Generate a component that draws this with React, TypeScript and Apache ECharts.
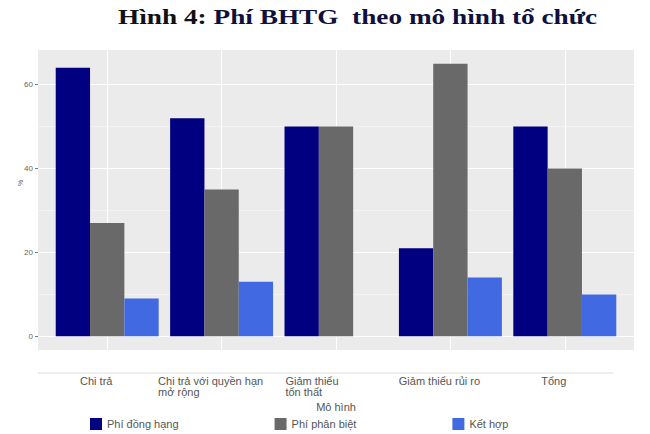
import React, { useEffect, useRef } from "react";
import * as echarts from "echarts";

const categories = [
  "Chi trả",
  "Chi trả với quyền hạn\nmở rộng",
  "Giảm thiểu\ntổn thất",
  "Giảm thiểu rủi ro",
  "Tổng",
];
const seriesNames = ["Phí đồng hạng", "Phí phân biệt", "Kết hợp"];
const phiDongHang = [64, 52, 50, 21, 50];
const phiPhanBiet = [27, 35, 50, 65, 40];
const ketHop = [9, 13, null, 14, 10];
const yTickMax = 60;
const yTickStep = 20;
const yRange = [-3.25, 68.25];

const titleMain = "Hình 4:";
const titleRest = "Phí BHTG  theo mô hình tổ chức";
const xAxisTitle = "Mô hình";
const yAxisTitle = "%";

const colors = ["#000080", "#696969", "#4169e1"];

export default function App() {
  const ref = useRef<HTMLDivElement>(null);
  useEffect(() => {
    document.body.style.margin = "0";
    if (!ref.current) return;
    const chart = echarts.init(ref.current, null, { renderer: "svg" });
    const panel = { left: 38, top: 50, width: 596, height: 300 };
    const unit = panel.height / (yRange[1] - yRange[0]);
    const zeroY = panel.top + yRange[1] * unit;
    const tickTop = zeroY - yTickMax * unit;
    const textColor = "#555";
    const font = "Liberation Sans";
    const labelStyle = {
      align: "left",
      fontSize: 11,
      lineHeight: 11,
      color: textColor,
      fontFamily: font,
    };

    const option: any = {
      animation: false,
      color: colors,
      grid: [
        { ...panel, show: true, backgroundColor: "#ebebeb", borderWidth: 0, z: -1 },
        { left: panel.left, width: panel.width, top: tickTop, height: zeroY - tickTop },
        { left: 50, width: 572, top: panel.top, height: panel.height },
      ],
      xAxis: [
        { gridIndex: 0, type: "value", show: false },
        { gridIndex: 1, type: "value", show: false },
        {
          gridIndex: 2,
          type: "category",
          data: categories,
          axisLine: { show: false },
          axisTick: { show: false },
          splitLine: {
            show: true,
            alignWithLabel: true,
            lineStyle: { color: "#ffffff", width: 1 },
          },
          axisLabel: {
            interval: 0,
            margin: 25,
            align: "center",
            padding: [0, 22, 0, 0],
            formatter: (v: string, idx: number) =>
              v
                .split("\n")
                .map((s) => "{" + (idx === 2 ? "m" : "l") + "|" + s + "}")
                .join("\n"),
            rich: {
              l: labelStyle,
              m: { ...labelStyle, padding: [0, 26, 0, 0] },
            },
          },
          name: xAxisTitle,
          nameLocation: "middle",
          nameGap: 51,
          nameTextStyle: { fontSize: 11, color: textColor, fontFamily: font },
        },
      ],
      yAxis: [
        { gridIndex: 0, type: "value", show: false, min: 0, max: 1 },
        {
          gridIndex: 1,
          type: "value",
          min: 0,
          max: yTickMax,
          interval: yTickStep,
          axisLine: { show: false },
          axisTick: { show: true, length: 3, lineStyle: { color: "#777" } },
          axisLabel: { fontSize: 8, color: "#666", margin: 5, fontFamily: font },
          splitLine: { show: true, lineStyle: { color: "#ffffff", width: 1.2 } },
          minorTick: { show: false, splitNumber: 2 },
          minorSplitLine: { show: true, lineStyle: { color: "#ffffff", width: 0.6, opacity: 0.7 } },
        },
        { gridIndex: 2, type: "value", show: false, min: yRange[0], max: yRange[1] },
      ],
      legend: {
        left: 90,
        top: 418,
        padding: 0,
        itemWidth: 12,
        itemHeight: 12,
        itemGap: 96,
        icon: "rect",
        textStyle: { fontSize: 11, color: textColor, fontFamily: font },
        data: seriesNames,
      },
      series: [phiDongHang, phiPhanBiet, ketHop].map((d, i) => ({
        type: "bar",
        name: seriesNames[i],
        xAxisIndex: 2,
        yAxisIndex: 2,
        data: d,
        barGap: "0%",
        barCategoryGap: "10%",
        itemStyle: { color: colors[i] },
      })),
      graphic: [
        {
          type: "text",
          x: 118,
          y: 5,
          scaleX: 1.24,
          style: {
            text: "{a|" + titleMain + "} {b|" + titleRest + "}",
            fontSize: 22,
            fontWeight: "bold",
            fontFamily: "Liberation Serif",
            fill: "#111",
            rich: {
              a: { fontSize: 22, fontWeight: "bold", fontFamily: "Liberation Serif", fill: "#111" },
              b: { fontSize: 22, fontWeight: "bold", fontFamily: "Liberation Serif", fill: "#10103c" },
            },
          },
        },
        {
          type: "text",
          x: 20,
          y: 183,
          rotation: Math.PI / 2,
          style: {
            text: yAxisTitle,
            fontSize: 7,
            fill: "#666",
            align: "center",
            verticalAlign: "middle",
            fontFamily: font,
          },
        },
        {
          type: "line",
          shape: { x1: 38, y1: 373, x2: 613, y2: 373 },
          style: { stroke: "#dddddd", lineWidth: 1 },
        },
      ],
    };
    chart.setOption(option);
    return () => chart.dispose();
  }, []);
  return <div ref={ref} style={{ width: 650, height: 434 }} />;
}
